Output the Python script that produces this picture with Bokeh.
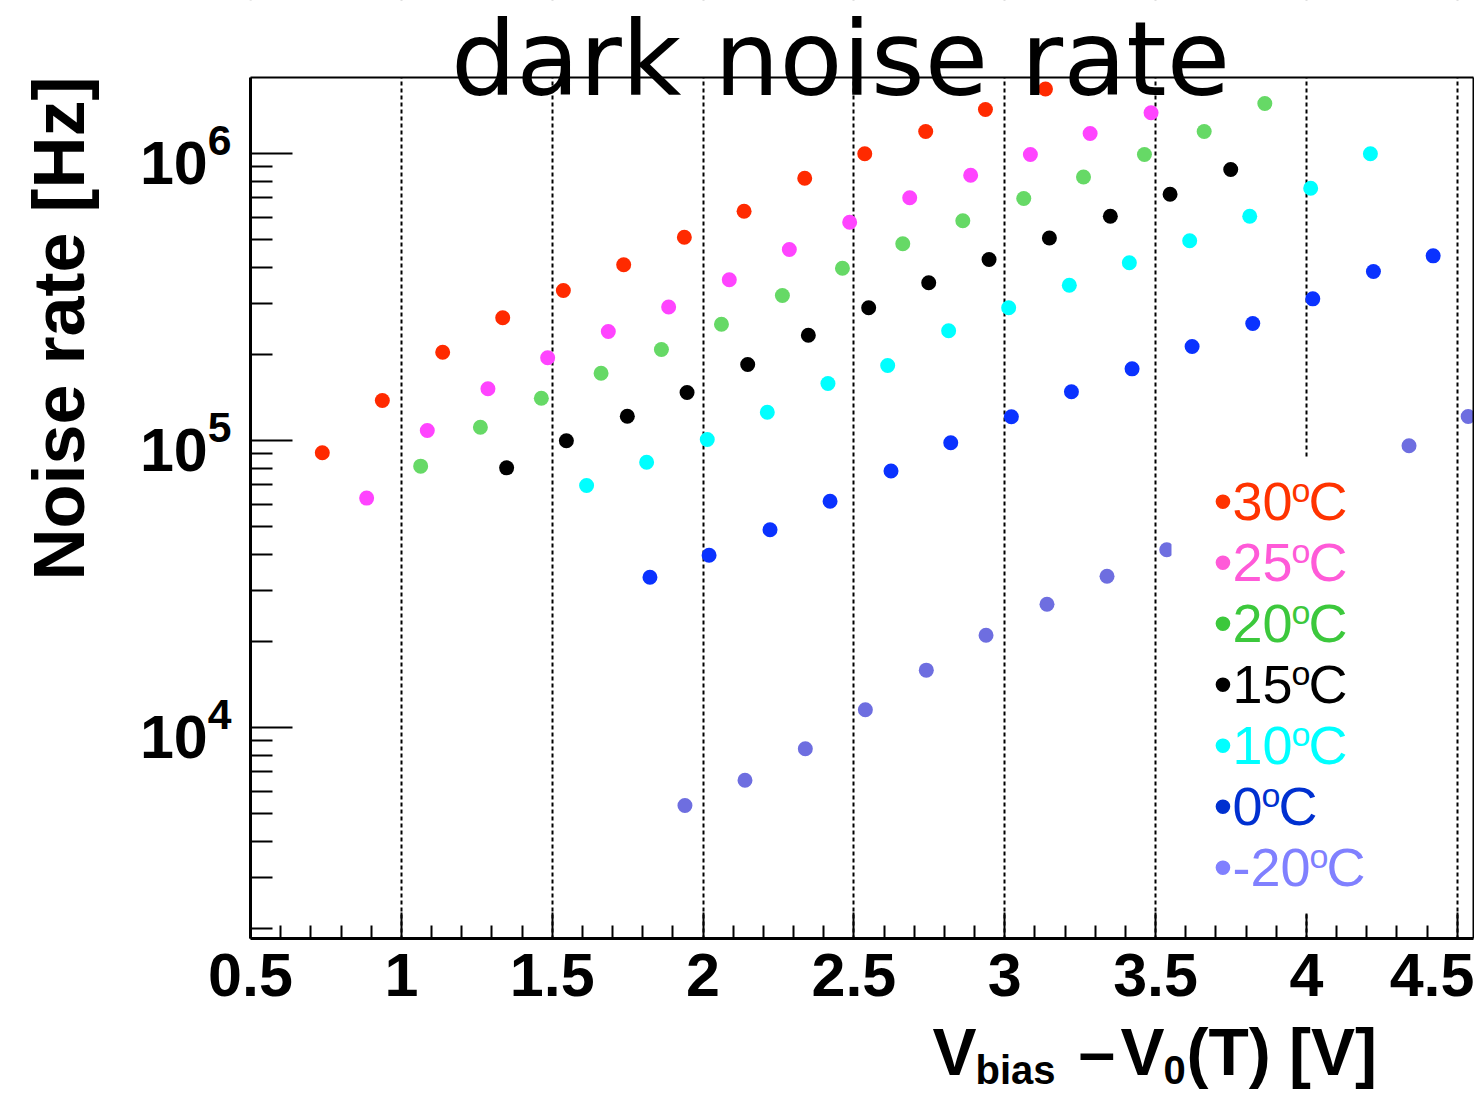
import numpy as np
from bokeh.plotting import figure
from bokeh.models import FixedTicker, Label, BoxAnnotation, LinearAxis
from bokeh.embed import file_html
from bokeh.resources import INLINE

# ---------------- data ----------------
x30 = [0.738, 0.937, 1.137, 1.336, 1.537, 1.737, 1.938, 2.136, 2.337, 2.536, 2.738, 2.936, 3.135]
y30 = [9.06e4, 1.379e5, 2.031e5, 2.676e5, 3.331e5, 4.095e5, 5.105e5, 6.295e5, 8.20e5, 9.98e5, 1.193e6, 1.423e6, 1.678e6]

x25 = [0.885, 1.086, 1.287, 1.485, 1.686, 1.886, 2.087, 2.286, 2.486, 2.685, 2.887, 3.085, 3.283, 3.485]
y25 = [6.30e4, 1.083e5, 1.514e5, 1.942e5, 2.398e5, 2.919e5, 3.63e5, 4.63e5, 5.76e5, 7.01e5, 8.40e5, 9.92e5, 1.174e6, 1.386e6]

x20 = [1.064, 1.262, 1.464, 1.662, 1.862, 2.061, 2.263, 2.462, 2.662, 2.861, 3.063, 3.261, 3.463, 3.661, 3.862]
y20 = [8.14e4, 1.112e5, 1.404e5, 1.716e5, 2.076e5, 2.542e5, 3.201e5, 3.984e5, 4.846e5, 5.83e5, 6.97e5, 8.28e5, 9.92e5, 1.193e6, 1.494e6]

x15 = [1.349, 1.547, 1.749, 1.947, 2.148, 2.349, 2.549, 2.748, 2.948, 3.148, 3.350, 3.548, 3.749]
y15 = [8.03e4, 9.98e4, 1.215e5, 1.470e5, 1.840e5, 2.328e5, 2.90e5, 3.544e5, 4.272e5, 5.077e5, 6.047e5, 7.215e5, 8.80e5]

x10 = [1.614, 1.813, 2.014, 2.213, 2.414, 2.612, 2.814, 3.013, 3.214, 3.413, 3.613, 3.812, 4.014, 4.212]
y10 = [6.97e4, 8.40e4, 1.008e5, 1.255e5, 1.579e5, 1.825e5, 2.411e5, 2.902e5, 3.473e5, 4.162e5, 4.964e5, 6.047e5, 7.57e5, 9.98e5]

x0 = [1.824, 2.020, 2.222, 2.421, 2.623, 2.821, 3.022, 3.221, 3.422, 3.621, 3.822, 4.021, 4.222, 4.420]
y0 = [3.339e4, 3.984e4, 4.886e4, 6.145e4, 7.83e4, 9.82e4, 1.21e5, 1.478e5, 1.777e5, 2.126e5, 2.556e5, 3.116e5, 3.88e5, 4.40e5]

xm20 = [1.940, 2.139, 2.339, 2.538, 2.740, 2.938, 3.140, 3.339, 3.537, 4.340, 4.536]
ym20 = [5.35e3, 6.55e3, 8.43e3, 1.153e4, 1.584e4, 2.097e4, 2.689e4, 3.367e4, 4.162e4, 9.59e4, 1.212e5]

series_x = [x30, x25, x20, x15, x10, x0, xm20]
series_y = [y30, y25, y20, y15, y10, y0, ym20]
marker_colors = ["#FF2A00", "#FF44FF", "#66D966", "#000000", "#00FFFF", "#0A32FF", "#6E6EE0"]

legend_temps = ["30", "25", "20", "15", "10", "0", "-20"]
legend_colors = ["#FF3300", "#FF5AD8", "#3CC83C", "#000000", "#00FFFF", "#0030D0", "#8080FF"]

x_major = [0.5, 1.0, 1.5, 2.0, 2.5, 3.0, 3.5, 4.0, 4.5]
x_tick_labels = ["0.5", "1", "1.5", "2", "2.5", "3", "3.5", "4", "4.5"]
x_minor = [round(0.5 + 0.1 * i, 2) for i in range(41) if i % 5 != 0]
y_major = [1e4, 1e5, 1e6]
y_minor = [m * 10 ** e for e in (3, 4, 5) for m in range(2, 10)]

title_text = "dark noise rate"
y_label_text = "Noise rate [Hz]"
# x axis title pieces: V_bias - V_0(T) [V]
x_title_parts = ["V", "bias", "\u2013", "V", "0", "(T) [V]"]

# ---------------- geometry ----------------
W, H = 1474, 1093
FL, FR, FT, FB = 250, 1473, 77, 938          # data box in canvas pixels
X_START, X_END = 0.5, 4.5537
Y_START, Y_END = 1840.0, 1.84e6


def px2x(px):
    return X_START + (px - FL) * (X_END - X_START) / (FR - FL)


def py2y(py):
    lo, hi = np.log10(Y_START), np.log10(Y_END)
    return 10 ** (hi - (py - FT) * (hi - lo) / (FB - FT))


# the frame covers the whole canvas; axes are pinned to the data box
p = figure(width=W, height=H, x_range=(px2x(0), px2x(W)), y_range=(py2y(H), py2y(0)),
           y_axis_type="log", output_backend="svg", toolbar_location=None, title=None,
           min_border=0)
p.background_fill_color = "white"
p.border_fill_color = "white"
p.outline_line_color = None

BOLD = "Liberation Sans"

# x axis
xa = p.xaxis[0]
xa.fixed_location = Y_START
xa.bounds = (X_START, X_END)
xa.ticker = FixedTicker(ticks=x_major, minor_ticks=x_minor)
xa.major_label_overrides = {v: t for v, t in zip(x_major, x_tick_labels)}
xa.axis_line_width = 3
xa.major_tick_in = 26
xa.major_tick_out = 0
xa.minor_tick_in = 13
xa.minor_tick_out = 0
xa.major_tick_line_width = 2
xa.minor_tick_line_width = 2
xa.major_label_text_font = BOLD
xa.major_label_text_font_style = "bold"
xa.major_label_text_font_size = "61px"
xa.major_label_text_color = "black"
xa.major_label_standoff = 15

# y axis
ya = p.yaxis[0]
ya.fixed_location = X_START
ya.bounds = (Y_START, Y_END)
ya.ticker = FixedTicker(ticks=y_major, minor_ticks=y_minor)
ya.axis_line_width = 3
ya.major_tick_in = 42
ya.major_tick_out = 0
ya.minor_tick_in = 22
ya.minor_tick_out = 0
ya.major_tick_line_width = 2
ya.minor_tick_line_width = 2
ya.major_label_text_font = BOLD
ya.major_label_text_font_style = "bold"
ya.major_label_text_font_size = "61px"
ya.major_label_text_color = "black"
ya.major_label_standoff = 19


def border_axis(place, loc, bounds):
    ax = LinearAxis(fixed_location=loc, bounds=bounds, ticker=FixedTicker(ticks=[]))
    ax.axis_line_width = 2
    ax.axis_line_color = "black"
    ax.major_tick_line_color = None
    ax.minor_tick_line_color = None
    ax.major_tick_in = 0
    ax.major_tick_out = 0
    ax.minor_tick_in = 0
    ax.minor_tick_out = 0
    ax.major_label_text_font_size = "0px"
    p.add_layout(ax, place)


border_axis("above", Y_END, (X_START, X_END))
border_axis("right", X_END, (Y_START, Y_END))

# grid
p.xgrid.ticker = FixedTicker(ticks=x_major)
p.xgrid.grid_line_color = "black"
p.xgrid.grid_line_dash = "4 3"
p.xgrid.grid_line_width = 2
p.ygrid.visible = False

# white covers outside the data box (under glyphs and axes, over the grid)
for l, r, b, t in [(px2x(-5), px2x(W + 5), py2y(FT), py2y(-5)),
                   (px2x(-5), px2x(W + 5), py2y(H + 5), py2y(FB)),
                   (px2x(-5), px2x(FL), py2y(H + 5), py2y(-5)),
                   (px2x(FR), px2x(W + 5), py2y(H + 5), py2y(-5))]:
    p.add_layout(BoxAnnotation(left=l, right=r, bottom=b, top=t, fill_color="white",
                               fill_alpha=1.0, line_color=None, level="underlay"))

# data points
for xs, ys, c in zip(series_x, series_y, marker_colors):
    p.scatter(xs, ys, size=15, marker="circle", fill_color=c, line_color=None)

# white legend box (hides what is behind it)
p.add_layout(BoxAnnotation(left=px2x(1171), right=px2x(1440), top=py2y(457), bottom=py2y(913),
                           fill_color="white", fill_alpha=1.0, line_color=None))

K = 0.39  # offset from the anchor to the alphabetic baseline, in em


def lab(px, base, text, size, color, style="normal", font="Liberation Sans", align="left", k=K):
    p.add_layout(Label(x=px2x(px), y=py2y(base - k * size), text=text, text_font=font,
                       text_font_style=style, text_font_size=f"{size}px", text_color=color,
                       text_align=align, text_baseline="alphabetic"))


# legend entries
CHW = {"-": 0.333}
for i, (t, c) in enumerate(zip(legend_temps, legend_colors)):
    base = 522 + 61 * i
    w = sum(CHW.get(ch, 0.556) for ch in t) * 54
    o_x = 1232 + w - 1
    lab(1213, base, "\u2022" + t, 54, c)
    lab(o_x, base - 19, "o", 34, c)
    lab(o_x + 17, base, "C", 54, c)

# title
lab(840, 99, title_text, 103, "black", font="DejaVu Sans", align="center", k=0.39)

# y axis title
p.add_layout(Label(x=px2x(58), y=py2y(328), text=y_label_text, text_font=BOLD, text_font_style="bold",
                   text_font_size="72px", text_color="black", text_align="center",
                   text_baseline="middle", angle=np.pi / 2))

# x axis title pieces
x_lefts = [932, 975, 1078, 1120, 1163, 1186]
x_sizes = [66, 40, 66, 66, 40, 66]
x_bases = [1077, 1085, 1077, 1077, 1085, 1077]
for txt, lx, fs, bl in zip(x_title_parts, x_lefts, x_sizes, x_bases):
    lab(lx, bl, txt, fs, "black", style="bold")

open("out.html", "w").write(file_html(p, INLINE))
